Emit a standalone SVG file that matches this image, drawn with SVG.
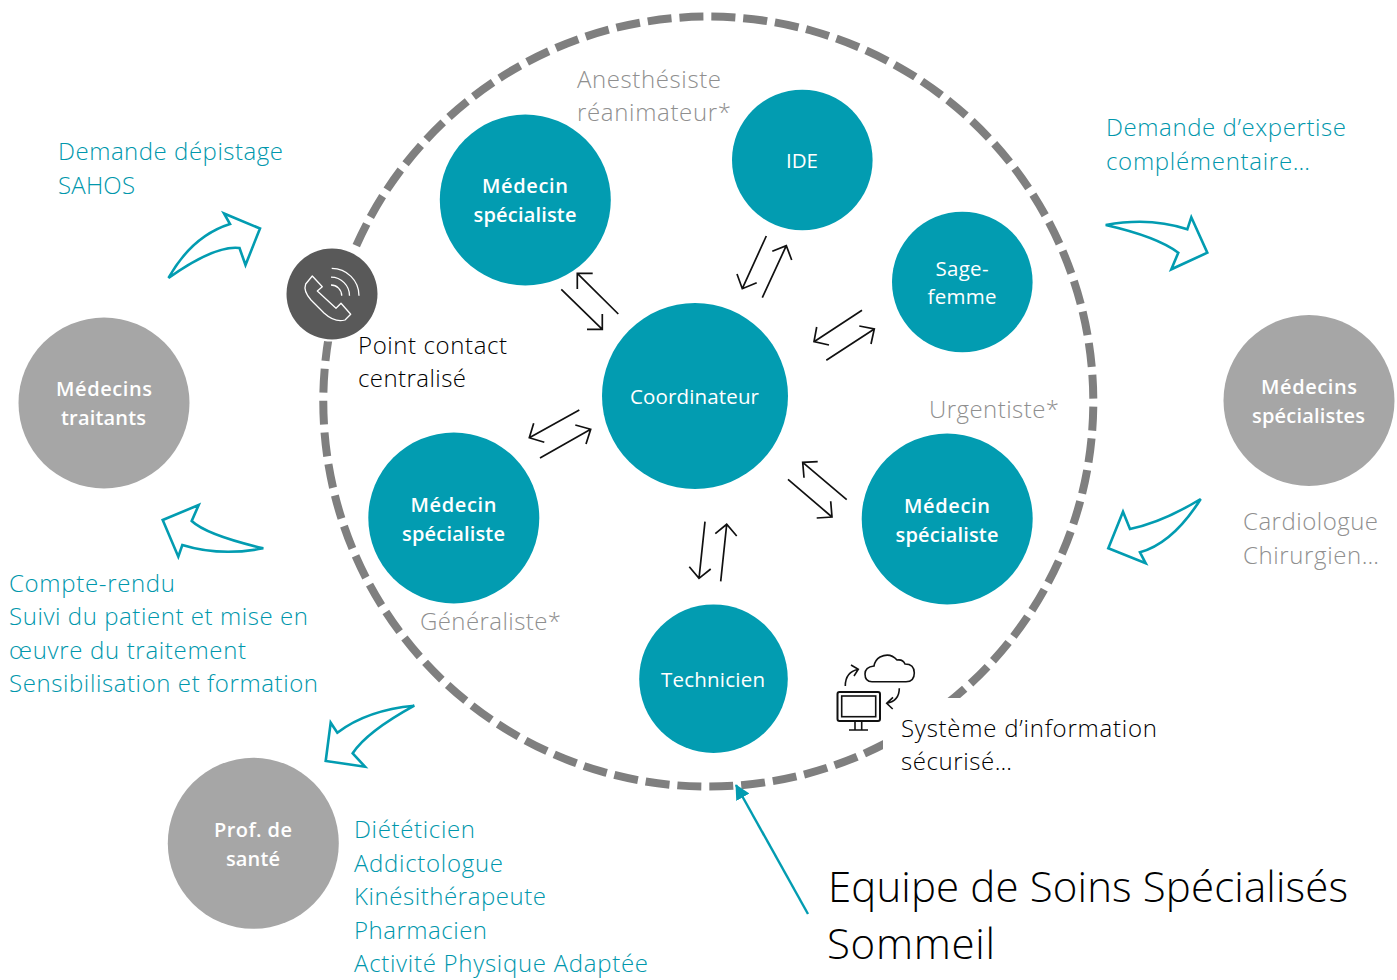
<svg xmlns="http://www.w3.org/2000/svg" width="1397" height="980" viewBox="0 0 1397 980">
<style>
text{font-family:"Open Sans","Noto Sans","Liberation Sans",sans-serif;font-weight:300;font-size:24px}
.t{fill:#0097AC}.g{fill:#8F8F8F}.k{fill:#000}
.n{fill:#fff;font-size:20.500px;font-weight:400;text-anchor:middle}
.b{fill:#fff;font-size:20px;font-weight:600;text-anchor:middle}
.teal{fill:#029CB1}.grey{fill:#A6A6A6}
.big{font-size:42px}
.out{fill:#fff;stroke:#029CB1;stroke-width:2.600;stroke-linejoin:miter}
.ar{fill:none;stroke:#111;stroke-width:1.700}
.ic{fill:none;stroke:#fff;stroke-width:1.300;stroke-linejoin:round}
.ik{fill:none;stroke:#111;stroke-width:1.600}
</style>
<defs>
<marker id="h" markerWidth="16" markerHeight="16" refX="14" refY="7.500" orient="auto" markerUnits="userSpaceOnUse"><path d="M0 0L15 7.500L0 15Z" fill="#029CB1"/></marker>
</defs>
<g id="ring">
<path d="M338.200 295.500A385 385 0 1 1 1078.400 507.700A385 385 0 1 1 338.200 295.500" fill="none" stroke="#7F7F7F" stroke-width="8" stroke-dasharray="24 7.920" stroke-dashoffset="10.660"/>
<rect x="883" y="698" width="290" height="84" fill="#fff"/>
</g>
<g id="connectors">
<path class="ar" d="M618.300 314L577.300 273.300M592.700 273.300H577.300V289"/>
<path class="ar" d="M561.300 289.300L602.300 329.300M587 329.300H602.300V314"/>
<path class="ar" d="M766.300 236L742.300 288.700M737 274L742.300 288.700L756.700 282.700"/>
<path class="ar" d="M762.300 297.700L786.300 245.700M772.300 251.300L786.300 245.700L791.700 260"/>
<path class="ar" d="M862 310.300L814 341.700M816.700 327L814 341.700L829 345"/>
<path class="ar" d="M826.300 360.300L874.300 329M859.300 326L874.300 329L871 344"/>
<path class="ar" d="M579.300 410L529.300 437.700M533.700 423.300L529.300 437.700L544.300 442.300"/>
<path class="ar" d="M540 458L590.700 429.300M575.300 425L590.700 429.300L586 444"/>
<path class="ar" d="M846.700 499.700L802.700 462.300M817.700 461.700L802.700 462.300L804 477.700"/>
<path class="ar" d="M788 479.300L832 517M816.700 518L832 517L830.700 501.300"/>
<path class="ar" d="M705 521.700L699 578.300M689.300 566.700L699 578.300L710.700 569"/>
<path class="ar" d="M720.700 581.300L726.700 524.300M715.300 533.700L726.700 524.300L736.700 536"/>
<path d="M808 914L736 785" fill="none" stroke="#029CB1" stroke-width="2.400" marker-end="url(#h)"/>
<path class="out" d="M168.500 278Q192 236 230 224L224 213.500L260 228.500L245.500 265L239.500 248Q215 245 168.500 278Z"/>
<path class="out" d="M1105.700 225Q1150 216.700 1187.300 229.300L1191.300 217.300L1207.300 252.700L1171.300 269.300L1178.300 252.700Q1157 236.700 1105.700 225Z"/>
<path class="out" d="M1200.700 499Q1163 522 1130 529L1123 511.700L1108.300 548.300L1145.700 563.300L1140 552.300Q1173 543 1200.700 499Z"/>
<path class="out" d="M263.300 548.300Q220 556.700 182.300 545L178.300 556.700L162.700 520L198.700 505L191.700 521Q206.700 535 263.300 548.300Z"/>
<path class="out" d="M414.300 705.700Q367 710 337.300 732.700L330.700 722.700L325.700 761L365 766.700L352.700 753.300Q367 731.700 414.300 705.700Z"/>
</g>
<g id="phone">
<circle cx="332" cy="294" r="47.500" fill="#fff"/>
<circle cx="332" cy="294" r="45.500" fill="#595959"/>
<path class="ic" d="M312.300 276L322.300 286.700L317.300 291L336 308.300L341 303.300L350.700 314.300L345 320Q335 323 324 313L311 300Q303 291 305.700 284Z"/>
<path class="ic" d="M331 285A10.700 10.700 0 0 1 341.700 295.700M331 277.200A18.500 18.500 0 0 1 349.500 295.700M331.700 268.400A27.300 27.300 0 0 1 359 295.700"/>
</g>
<g id="medecin-specialiste-1"><circle class="teal" cx="525.300" cy="200" r="85.500"/><text class="b" x="525" y="193" textLength="86">Médecin</text><text class="b" x="525" y="222" textLength="103">spécialiste</text></g>
<g id="ide"><circle class="teal" cx="802.300" cy="160" r="70.300"/><text class="n" x="802" y="168" textLength="32">IDE</text></g>
<g id="sage-femme"><circle class="teal" cx="962.300" cy="282" r="70.300"/><text class="n" x="962" y="276" textLength="53">Sage-</text><text class="n" x="962" y="304" textLength="69">femme</text></g>
<g id="coordinateur"><circle class="teal" cx="695" cy="396" r="93"/><text class="n" x="694.500" y="404" textLength="129">Coordinateur</text></g>
<g id="medecin-specialiste-2"><circle class="teal" cx="453.800" cy="518" r="85.500"/><text class="b" x="453.500" y="512" textLength="86">Médecin</text><text class="b" x="453.500" y="541" textLength="103">spécialiste</text></g>
<g id="medecin-specialiste-3"><circle class="teal" cx="947.200" cy="519" r="85.500"/><text class="b" x="947" y="513" textLength="86">Médecin</text><text class="b" x="947" y="542" textLength="103">spécialiste</text></g>
<g id="technicien"><circle class="teal" cx="713.500" cy="678.700" r="74.300"/><text class="n" x="713" y="687" textLength="104">Technicien</text></g>
<g id="medecins-traitants"><circle class="grey" cx="104" cy="403" r="85.500"/><text class="b" x="104" y="396" textLength="96">Médecins</text><text class="b" x="103.500" y="425" textLength="85">traitants</text></g>
<g id="medecins-specialistes"><circle class="grey" cx="1309" cy="400.500" r="85.500"/><text class="b" x="1309" y="394" textLength="96">Médecins</text><text class="b" x="1308.500" y="423" textLength="113">spécialistes</text></g>
<g id="prof-de-sante"><circle class="grey" cx="253.300" cy="843.300" r="85.500"/><text class="b" x="253" y="837" textLength="78">Prof. de</text><text class="b" x="253" y="866" textLength="54">santé</text></g>
<g id="si-icon">
<rect class="ik" x="837.500" y="692" width="42.500" height="29" rx="2" style="stroke-width:2"/>
<rect class="ik" x="841.700" y="696" width="34" height="20.700"/>
<path class="ik" d="M855 721V730M861.700 721V730M849 730H868"/>
<path class="ik" d="M872 681.700H906Q914.300 681.700 914.300 673Q914.300 664 905 664Q903 659 897 660Q890 652 880 657Q875 660 874 666Q865 667 865 674Q865 681.700 872 681.700Z"/>
<path class="ik" d="M845.300 686Q845.300 672 858.300 669.300M851 665L858.300 669.300L854 676"/>
<path class="ik" d="M899.300 688.300Q899.300 701 886.700 703.300M893 697.300L886.700 703.300L892.700 709"/>
</g>
<g id="labels">
<text class="t" x="58" y="160" textLength="225">Demande dépistage</text>
<text class="t" x="58" y="194" textLength="77">SAHOS</text>
<text class="g" x="577" y="88" textLength="144">Anesthésiste</text>
<text class="g" x="577" y="121" textLength="154">réanimateur*</text>
<text class="t" x="1106" y="136" textLength="240">Demande d’expertise</text>
<text class="t" x="1106" y="170" textLength="204">complémentaire…</text>
<text class="k" x="358" y="354" textLength="149">Point contact</text>
<text class="k" x="358" y="387" textLength="108">centralisé</text>
<text class="g" x="929" y="418" textLength="130">Urgentiste*</text>
<text class="g" x="420" y="630" textLength="141">Généraliste*</text>
<text class="g" x="1243" y="530" textLength="135">Cardiologue</text>
<text class="g" x="1243" y="564" textLength="136">Chirurgien…</text>
<text class="t" x="9" y="592" textLength="166">Compte-rendu</text>
<text class="t" x="9" y="625" textLength="299">Suivi du patient et mise en</text>
<text class="t" x="9" y="659" textLength="237">œuvre du traitement</text>
<text class="t" x="9" y="692" textLength="309">Sensibilisation et formation</text>
<text class="k" x="901" y="737" textLength="256">Système d’information</text>
<text class="k" x="901" y="770" textLength="111">sécurisé…</text>
<text class="t" x="354" y="838" textLength="121">Diététicien</text>
<text class="t" x="354" y="872" textLength="149">Addictologue</text>
<text class="t" x="354" y="905" textLength="192">Kinésithérapeute</text>
<text class="t" x="354" y="939" textLength="133">Pharmacien</text>
<text class="t" x="354" y="972" textLength="294">Activité Physique Adaptée</text>
<text class="k big" x="828" y="902" textLength="520">Equipe de Soins Spécialisés</text>
<text class="k big" x="827" y="959" textLength="168">Sommeil</text>
</g>
</svg>
